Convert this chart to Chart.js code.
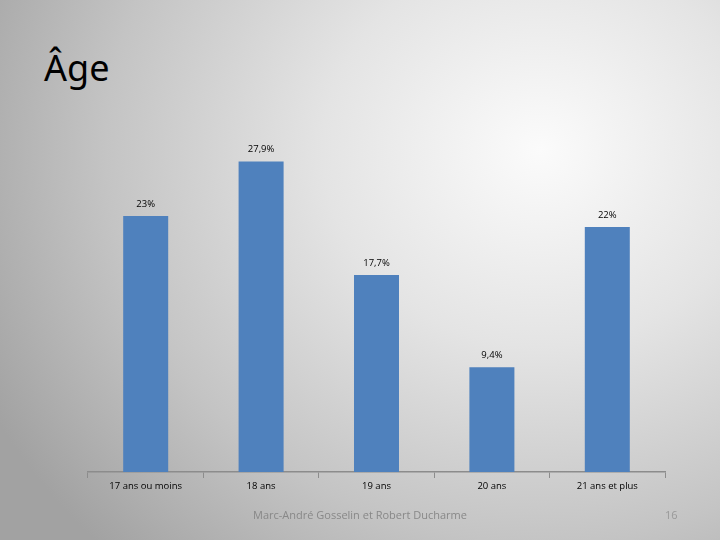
<!DOCTYPE html>
<html>
<head>
<meta charset="utf-8">
<script src="https://cdn.jsdelivr.net/npm/chart.js@4"></script>
<style>
  html, body { margin: 0; padding: 0; }
  body {
    width: 720px; height: 540px; overflow: hidden; position: relative;
    background: radial-gradient(ellipse 620px 560px at 540px 150px, #fbfbfb 0%, #e4e4e4 35%, #c4c4c4 70%, #a2a2a2 100%);
    font-family: "Open Sans", sans-serif;
  }
  #title { position: absolute; left: 44px; top: 43px; font-size: 36px; font-family: "Noto Sans", sans-serif; color: #000; }
  #footer { position: absolute; left: 0; width: 720px; top: 507px; text-align: center; font-size: 11px; color: #888; }
  #page { position: absolute; left: 665px; top: 507px; font-size: 11px; color: #999; }
  #wrap { position: absolute; left: 0; top: 0; width: 720px; height: 540px; }
</style>
</head>
<body>
<div id="title">Âge</div>
<div id="wrap"><canvas id="ageChart" width="720" height="540"></canvas></div>
<div id="footer">Marc-André Gosselin et Robert Ducharme</div>
<div id="page">16</div>
<script>
const categories = ['17 ans ou moins', '18 ans', '19 ans', '20 ans', '21 ans et plus'];
const percentages = [23, 27.9, 17.7, 9.4, 22];
const valueLabels = ['23%', '27,9%', '17,7%', '9,4%', '22%'];

document.addEventListener('DOMContentLoaded', function() {
    const ctx = document.getElementById('ageChart').getContext('2d');

    // draws the value above each bar
    const barLabels = {
        id: 'barLabels',
        afterDatasetsDraw(chart) {
            const c = chart.ctx;
            const meta = chart.getDatasetMeta(0);
            c.save();
            c.font = '9.5px "Open Sans", sans-serif';
            c.fillStyle = '#000';
            c.textAlign = 'center';
            c.textBaseline = 'middle';
            meta.data.forEach((bar, i) => {
                c.fillText(valueLabels[i], bar.x, bar.y - 12);
            });
            c.restore();
        }
    };

    new Chart(ctx, {
        type: 'bar',
        data: {
            labels: categories,
            datasets: [{
                data: percentages,
                backgroundColor: '#4f81bd',
                categoryPercentage: 1,
                barPercentage: 0.39
            }]
        },
        options: {
            responsive: false,
            animation: false,
            layout: { padding: { left: 88, right: 55, top: 138, bottom: 38 } },
            plugins: {
                legend: { display: false },
                tooltip: { enabled: false }
            },
            scales: {
                x: {
                    afterFit: function(scale) { scale.height = 30; },
                    grid: { drawOnChartArea: false, drawTicks: true, tickLength: 6, color: '#8c8c8c' },
                    border: { display: true, color: '#8c8c8c', width: 1.5 },
                    ticks: { color: '#000', font: { size: 9.5, family: '"Open Sans", sans-serif' }, padding: 3, maxRotation: 0 }
                },
                y: {
                    display: false,
                    min: 0,
                    max: 30
                }
            }
        },
        plugins: [barLabels]
    });
});
</script>
</body>
</html>
